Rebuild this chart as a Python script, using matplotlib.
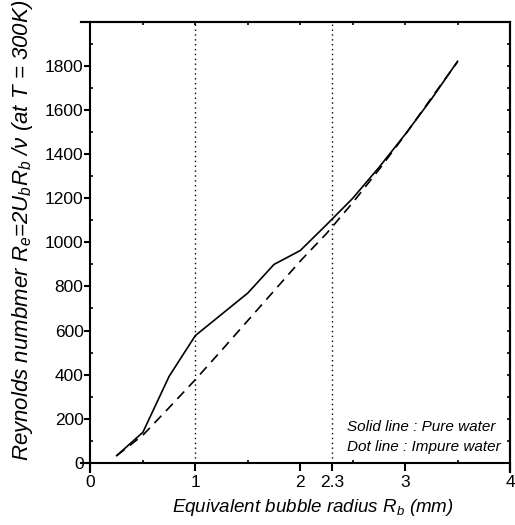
# coding: UTF-8

import numpy as np
import matplotlib
matplotlib.use("Agg")
import matplotlib.pyplot as plt

plt.rcParams['font.family'] = ['Liberation Sans', 'DejaVu Sans']
plt.rcParams['mathtext.fontset'] = 'custom'
plt.rcParams['mathtext.it'] = 'Liberation Sans:italic'
plt.rcParams['mathtext.rm'] = 'Liberation Sans'

# 純水（実線）
r_pure = [0.25, 0.5, 0.75, 1.0, 1.5, 1.75, 2.0, 2.25, 2.5, 2.75, 3.0, 3.25, 3.5]
re_pure = [32, 138, 392, 577, 770, 900, 963, 1080, 1200, 1340, 1490, 1650, 1822]

# 不純水（破線）
r_impure = [0.25, 0.5, 0.75, 1.0, 1.25, 1.5, 1.75, 2.0, 2.25, 2.5, 2.75, 3.0, 3.25, 3.5]
re_impure = [32, 125, 250, 377, 510, 645, 780, 915, 1040, 1180, 1330, 1488, 1655, 1820]

# 縦の点線の位置
r_marks = [1.0, 2.3]

x_ticks = [0, 1, 2, 2.3, 3, 4]
x_ticklabels = ["0", "1", "2", "2.3", "3", "4"]
y_ticks = list(range(0, 1801, 200))

fig = plt.figure(figsize=(5.15, 5.25), dpi=100)
ax = fig.add_axes([0.1573, 0.1019, 0.833, 0.856])

ax.plot(r_pure, re_pure, color="black", lw=1.2, ls="-")
ax.plot(r_impure, re_impure, color="black", lw=1.2, ls=(0, (6, 4)))
ax.vlines(r_marks, 0, 2000, colors="black", lw=1.0, linestyles=[(0, (1, 2.5))])

ax.set_xlim(-0.09, 4.0)
ax.set_ylim(-40, 2000)

ax.spines['left'].set_position(('data', 0))
ax.spines['bottom'].set_position(('data', 0))
for s in ax.spines.values():
    s.set_linewidth(1.5)

ax.set_xticks(x_ticks)
ax.set_xticklabels(x_ticklabels)
ax.set_xticks([0.5, 1.5, 2.5, 3.5], minor=True)
ax.set_yticks(y_ticks)
ax.set_yticks(list(range(100, 2000, 200)), minor=True)
ax.tick_params(axis='x', which='major', direction='out', length=6, width=1.5,
               labelsize=12.5, pad=3)
ax.tick_params(axis='y', which='major', direction='out', length=4.5, width=1.5,
               labelsize=12.5, pad=0.5)
ax.tick_params(which='minor', direction='in', length=2, width=1.2)

# 上と右の目盛り
top = ax.secondary_xaxis('top')
top.set_xticks(np.arange(0, 4.01, 0.5))
top.tick_params(direction='in', length=2, width=1.2, labeltop=False)
top.spines['top'].set_linewidth(1.5)
right = ax.secondary_yaxis('right')
right.set_yticks(range(0, 2001, 100))
right.tick_params(direction='in', length=2.5, width=1.2, labelright=False)
right.spines['right'].set_linewidth(1.5)

ax.set_xlabel(r"Equivalent bubble radius $R_b$ (mm)", fontsize=13.5, style='italic')
ax.set_ylabel(r"Reynolds numbmer $R_e$=2$U_bR_b$ /ν (at $T$ = 300K)", fontsize=16,
              style='italic')
ax.xaxis.set_label_coords(0.54, -0.057)
ax.yaxis.set_label_coords(-0.108, 0.537)

ax.text(2.445, 163, "Solid line : Pure water", fontsize=11, style='italic', va='center')
ax.text(2.445, 73, "Dot line : Impure water", fontsize=11, style='italic', va='center')

fig.savefig("out.png", dpi=100)
